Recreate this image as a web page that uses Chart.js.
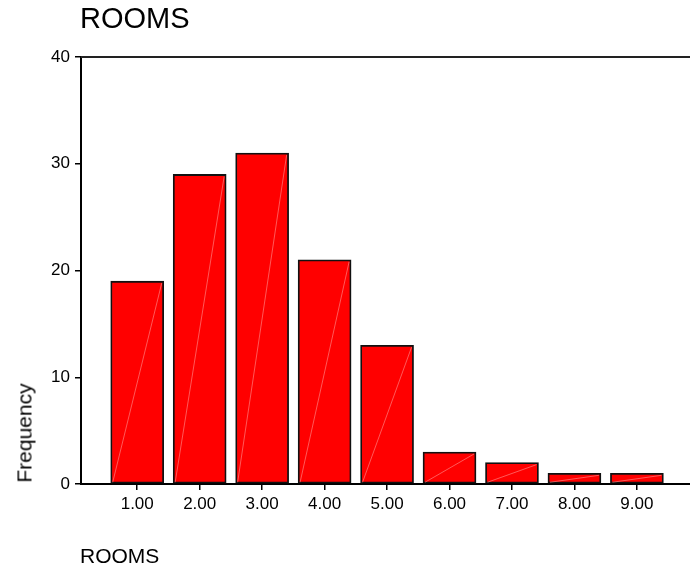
<!DOCTYPE html>
<html>
<head>
<meta charset="utf-8">
<script src="https://cdn.jsdelivr.net/npm/chart.js@4/dist/chart.umd.min.js"></script>
<style>
  html, body { margin: 0; padding: 0; background: #fff; }
  #wrap { position: relative; width: 690px; height: 571px; font-family: "Liberation Sans", Arial, sans-serif; color: #000; }
  #chart { position: absolute; left: 0; top: 0; }
  .txt { position: absolute; line-height: 1; white-space: nowrap; }
  #title { left: 80px; top: 4px; font-size: 29px; }
  #xTitle { left: 80px; top: 545px; font-size: 21px; }
  #yTitle { left: 24px; top: 433px; font-size: 21px; transform: translate(-50%, -50%) rotate(-90deg); }
</style>
</head>
<body>
<div id="wrap">
  <canvas id="chart" width="690" height="571"></canvas>
  <div class="txt" id="title">ROOMS</div>
  <div class="txt" id="xTitle">ROOMS</div>
  <div class="txt" id="yTitle">Frequency</div>
</div>
<script>
  // values
  const rooms = [1, 2, 3, 4, 5, 6, 7, 8, 9];
  const roomLabels = ['1.00', '2.00', '3.00', '4.00', '5.00', '6.00', '7.00', '8.00', '9.00'];
  const frequency = [19, 29, 31, 21, 13, 3, 2, 1, 1];
  const yTicks = [0, 10, 20, 30, 40];

  // faint diagonal streak across each bar + top frame line
  const decor = {
    id: 'decor',
    afterDatasetsDraw(chart) {
      const ctx = chart.ctx;
      const meta = chart.getDatasetMeta(0);
      ctx.save();
      ctx.strokeStyle = 'rgba(255,160,160,0.55)';
      ctx.lineWidth = 1;
      meta.data.forEach(bar => {
        const p = bar.getProps(['x', 'y', 'base', 'width'], true);
        ctx.beginPath();
        ctx.moveTo(p.x - p.width / 2 + 2, p.base - 1);
        ctx.lineTo(p.x + p.width / 2 - 2, p.y + 2);
        ctx.stroke();
      });
      ctx.restore();
    },
    afterDraw(chart) {
      const a = chart.chartArea;
      const ctx = chart.ctx;
      ctx.save();
      ctx.strokeStyle = '#222';
      ctx.lineWidth = 2;
      ctx.beginPath();
      ctx.moveTo(a.left, a.top);
      ctx.lineTo(a.right, a.top);
      ctx.stroke();
      ctx.restore();
    }
  };

  const tickFont = { family: '"Liberation Sans", Arial, sans-serif', size: 17 };

  new Chart(document.getElementById('chart'), {
    type: 'bar',
    data: {
      datasets: [{
        data: rooms.map((r, i) => ({ x: r, y: frequency[i] })),
        backgroundColor: '#ff0000',
        borderColor: '#111',
        borderWidth: 1.8,
        borderSkipped: false,
        barThickness: 53
      }]
    },
    options: {
      responsive: false,
      animation: false,
      layout: { padding: { top: 57, right: 0, left: 0, bottom: 0 } },
      plugins: { legend: { display: false }, tooltip: { enabled: false } },
      scales: {
        x: {
          type: 'linear',
          min: 0.1,
          max: 9.85,
          offset: false,
          afterBuildTicks: s => { s.ticks = rooms.map(v => ({ value: v })); },
          afterFit: s => { s.height = 87; },
          border: { color: '#000', width: 2 },
          grid: { offset: false, drawOnChartArea: false, drawTicks: true, tickLength: 6, color: '#000', lineWidth: 1.5 },
          ticks: {
            color: '#000',
            font: tickFont,
            padding: 4,
            maxRotation: 0,
            callback: v => roomLabels[rooms.indexOf(v)]
          }
        },
        y: {
          min: 0,
          max: 40,
          afterBuildTicks: s => { s.ticks = yTicks.map(v => ({ value: v })); },
          afterFit: s => { s.width = 81; },
          border: { color: '#000', width: 2 },
          grid: { drawOnChartArea: false, drawTicks: true, tickLength: 6, color: '#000', lineWidth: 1.5 },
          ticks: { color: '#000', font: tickFont, padding: 5 }
        }
      }
    },
    plugins: [decor]
  });
</script>
</body>
</html>
